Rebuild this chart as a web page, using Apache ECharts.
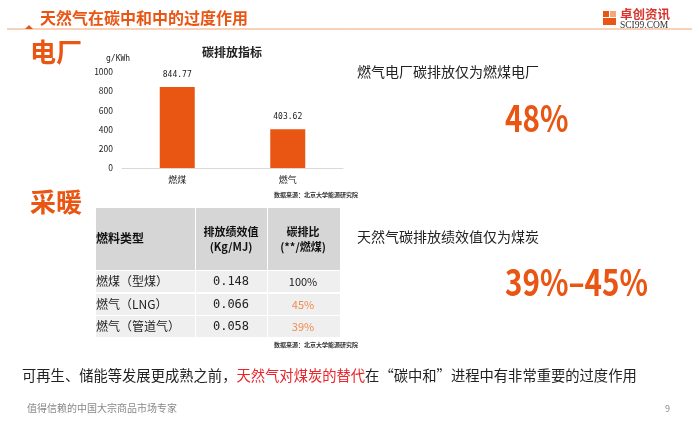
<!DOCTYPE html>
<html><head><meta charset="utf-8">
<script src="https://cdn.jsdelivr.net/npm/echarts@6/dist/echarts.min.js"></script>
<style>html,body{margin:0;padding:0;background:#fff}#c{width:700px;height:422px}</style>
</head><body><div id="c"></div>
<script>
var categories = ['燃煤', '燃气'];
var emission = [844.77, 403.62];
var yTicks = [0, 200, 400, 600, 800, 1000];
var tableHeader = ['燃料类型', '排放绩效值\n(Kg/MJ)', '碳排比\n(**/燃煤)'];
var fuelTypes = ['燃煤（型煤）', '燃气（LNG）', '燃气（管道气）'];
var efficiency = ['0.148', '0.066', '0.058'];
var ratio = ['100%', '45%', '39%'];

var ORANGE = '#e95513';
var FONT = '"Noto Sans CJK SC", "Noto Sans", sans-serif';
var chart = echarts.init(document.getElementById('c'));

var g = [];
// header
g.push({type:'line', shape:{x1:7,y1:29,x2:692,y2:29}, style:{stroke:'#f2a36f', lineWidth:1}});
g.push({type:'polygon', shape:{points:[[25,29],[29,25],[33,29]]}, style:{fill:ORANGE}});
g.push({type:'text', left:40, top:10, style:{text:'天然气在碳中和中的过度作用', fill:ORANGE, font:'bold 16px '+FONT}});
// logo
g.push({type:'rect', shape:{x:603,y:11,width:6,height:6}, style:{fill:'#e95513'}});
g.push({type:'rect', shape:{x:603,y:18,width:13,height:7}, style:{fill:'#e95513'}});
g.push({type:'rect', shape:{x:610,y:11,width:6,height:6}, style:{fill:'#f5a67a'}});
g.push({type:'text', left:620, top:8, style:{text:'卓创资讯', fill:'#d9342b', font:'bold 12.5px '+FONT}});
g.push({type:'text', left:620, top:20, style:{text:'SCI99.COM', fill:'#333', font:'9.5px "Liberation Serif", serif'}});
// section labels
g.push({type:'text', left:30, top:39, style:{text:'电厂', fill:ORANGE, font:'bold 26px '+FONT}});
g.push({type:'text', left:30, top:189, style:{text:'采暖', fill:ORANGE, font:'bold 26px '+FONT}});
// chart title / unit / source
g.push({type:'text', left:202, top:46, style:{text:'碳排放指标', fill:'#222', font:'bold 12px '+FONT}});
g.push({type:'text', left:106, top:55, style:{text:'g/KWh', fill:'#222', font:'8px "DejaVu Sans Mono", monospace'}});
g.push({type:'text', left:274, top:192, style:{text:'数据来源：北京大学能源研究院', fill:'#333', font:'bold 6px '+FONT}});
g.push({type:'text', left:274, top:342, style:{text:'数据来源：北京大学能源研究院', fill:'#333', font:'bold 6px '+FONT}});
// right texts
g.push({type:'text', left:357, top:65, style:{text:'燃气电厂碳排放仅为燃煤电厂', fill:'#222', font:'14px '+FONT}});
g.push({type:'text', x:505, y:118, scaleX:0.8, style:{text:'48%', fill:ORANGE, font:'bold 37px '+FONT, verticalAlign:'middle'}});
g.push({type:'text', left:357, top:230, style:{text:'天然气碳排放绩效值仅为煤炭', fill:'#222', font:'14px '+FONT}});
g.push({type:'text', x:505, y:282, scaleX:0.8, style:{text:'39%\u201345%', fill:ORANGE, font:'bold 37px '+FONT, verticalAlign:'middle'}});
// bottom sentence
g.push({type:'text', left:22, top:368, style:{rich:{a:{fill:'#222', font:'14.3px '+FONT}, r:{fill:'#e8262b', font:'14.3px '+FONT}},
  text:'{a|可再生、储能等发展更成熟之前，}{r|天然气对煤炭的替代}{a|在“碳中和”进程中有非常重要的过度作用}'}});
g.push({type:'text', left:27, top:403, style:{text:'值得信赖的中国大宗商品市场专家', fill:'#888', font:'10px '+FONT}});
g.push({type:'text', left:665, top:404, style:{text:'9', fill:'#888', font:'9px '+FONT}});

// table
var colX = [96, 195, 267, 340];
var hdrTop = 208, hdrBot = 270;
var rowTops = [271, 294, 316], rowH = 21;
for (var c = 0; c < 3; c++) {
  g.push({type:'rect', shape:{x:colX[c]+(c?1:0), y:hdrTop, width:colX[c+1]-colX[c]-(c?1:0), height:hdrBot-hdrTop}, style:{fill:'#d6d6d6'}});
  for (var r = 0; r < 3; r++) {
    g.push({type:'rect', shape:{x:colX[c]+(c?1:0), y:rowTops[r], width:colX[c+1]-colX[c]-(c?1:0), height:rowH}, style:{fill:'#efefef'}});
  }
}
g.push({type:'text', left:96, top:232, style:{text:tableHeader[0], fill:'#111', font:'bold 12px '+FONT}});
g.push({type:'text', x:231, y:239, style:{text:tableHeader[1], fill:'#111', font:'bold 11px '+FONT, align:'center', verticalAlign:'middle', lineHeight:15}});
g.push({type:'text', x:303, y:239, style:{text:tableHeader[2], fill:'#111', font:'bold 11px '+FONT, align:'center', verticalAlign:'middle', lineHeight:15}});
for (var r = 0; r < 3; r++) {
  var cy = rowTops[r] + rowH/2;
  g.push({type:'text', x:96, y:cy, style:{text:fuelTypes[r], fill:'#222', font:'12px '+FONT, verticalAlign:'middle'}});
  g.push({type:'text', x:231, y:cy, style:{text:efficiency[r], fill:'#222', font:'12px "DejaVu Sans Mono", monospace', align:'center', verticalAlign:'middle'}});
  g.push({type:'text', x:303, y:cy, style:{text:ratio[r], fill: r ? '#f08a4b' : '#222', font:'11px '+FONT, align:'center', verticalAlign:'middle'}});
}

chart.setOption({
  animation:false,
  grid:{left:122, right:357, top:72, bottom:254},
  xAxis:{type:'category', data:categories, axisLine:{lineStyle:{color:'#d9d9d9'}}, axisTick:{show:false},
    axisLabel:{color:'#222', fontSize:9, margin:7, fontFamily:FONT}},
  yAxis:{type:'value', min:yTicks[0], max:yTicks[yTicks.length-1], interval:200, splitLine:{show:false},
    axisLine:{show:false}, axisTick:{show:false},
    axisLabel:{color:'#222', fontSize:8.5, margin:9, fontFamily:FONT, formatter:function(v){return String(v);}}},
  series:[{type:'bar', data:emission, barWidth:35, itemStyle:{color:ORANGE},
    label:{show:true, position:'top', distance:8, color:'#222', fontSize:8, fontFamily:'"DejaVu Sans Mono", monospace',
      formatter:function(p){return p.value.toFixed(2);}}}],
  graphic:g
});
</script></body></html>
